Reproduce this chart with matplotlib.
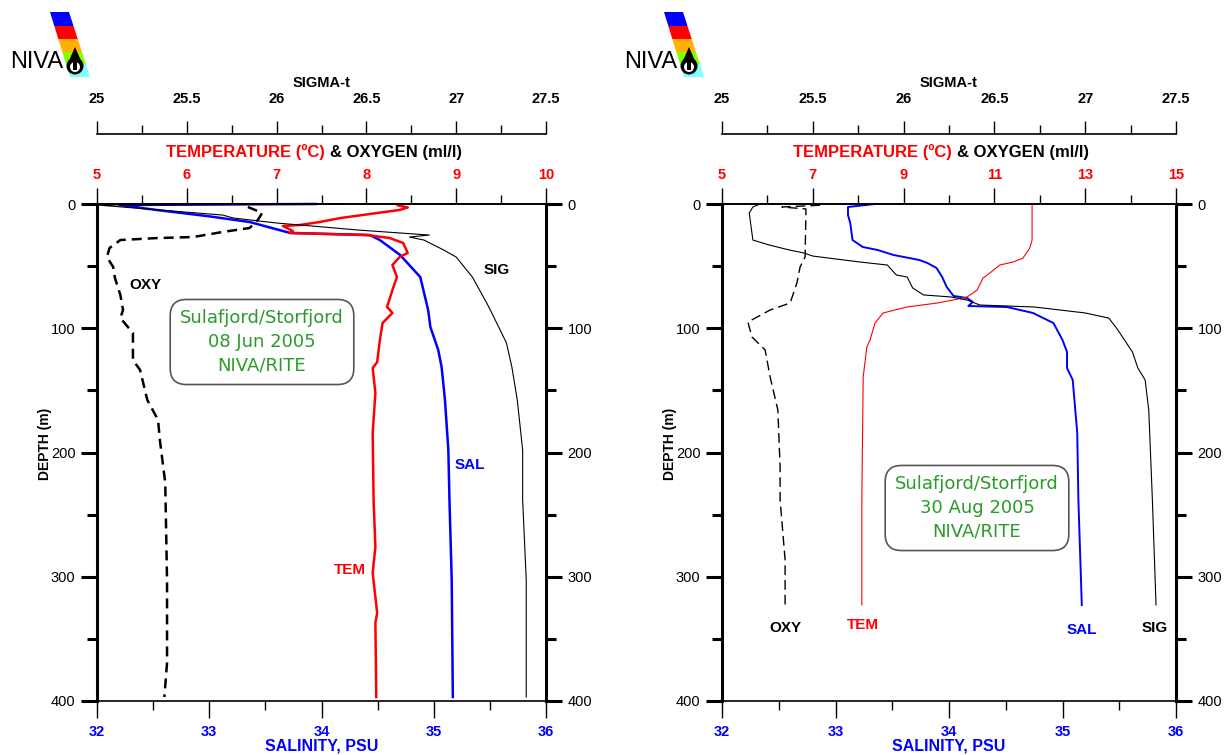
import matplotlib.pyplot as plt
from matplotlib.patches import Polygon, Ellipse
from matplotlib.ticker import MultipleLocator

plt.rcParams['font.family'] = ['Liberation Sans', 'DejaVu Sans']

W, H = 1225, 755

# ---- Sulafjord/Storfjord 08 Jun 2005 ----
jun_sal_depth = [0, 0.8, 4.8, 9.7, 14.5, 23.3, 25.0, 29.0, 41.0, 58.8, 85.3, 99.0, 117.5,
                 131.2, 157.7, 198.0, 238.2, 302.6, 396.8]
jun_sal = [33.95, 32.20, 32.53, 32.98, 33.36, 33.72, 34.43, 34.52, 34.70, 34.88, 34.95, 34.97,
           35.04, 35.07, 35.10, 35.13, 35.14, 35.16, 35.17]

jun_tem_depth = [1, 2.8, 4.8, 11.3, 14.5, 16.9, 17.7, 21.7, 23.3, 25.0, 27.4, 31.4, 39.4, 42.7,
                 49.1, 58.8, 69.2, 82.9, 87.7, 95.8, 109.5, 127.2, 132.0, 152.1, 184.3, 238.2,
                 276.1, 297.0, 329.2, 337.2, 396.8]
jun_tem = [8.35, 8.46, 8.37, 7.71, 7.48, 7.26, 7.07, 7.18, 7.15, 8.01, 8.26, 8.41, 8.46, 8.37,
           8.29, 8.34, 8.29, 8.23, 8.29, 8.18, 8.15, 8.12, 8.07, 8.10, 8.07, 8.08,
           8.10, 8.07, 8.12, 8.10, 8.11]

jun_sig_depth = [0, 0.8, 8.9, 11.3, 15.3, 18.5, 20.9, 25.0, 26.6, 29.0, 37.0, 42.7, 58.8, 79.7,
                 85.3, 111.9, 131.2, 157.7, 198.0, 238.2, 302.6, 396.8]
jun_sig = [26.37, 25.00, 25.70, 25.76, 26.00, 26.26, 26.45, 26.85, 26.74, 26.82, 26.93, 27.00,
           27.09, 27.17, 27.19, 27.28, 27.31, 27.34, 27.37, 27.37, 27.39, 27.39]

jun_oxy_depth = [2.4, 7.2, 12.9, 19.3, 22.5, 26.6, 27.4, 29.0, 35.4, 42.7, 50.7, 59.6, 73.2,
                 85.3, 91.8, 103.8, 125.6, 133.6, 157.7, 173.8, 189.9, 224.5, 302.6, 369.4, 396.8]
jun_oxy = [6.68, 6.84, 6.79, 6.70, 6.40, 6.07, 5.67, 5.26, 5.14, 5.11, 5.18, 5.20, 5.26,
           5.29, 5.26, 5.40, 5.40, 5.48, 5.56, 5.68, 5.70, 5.76, 5.78, 5.78, 5.75]

# ---- Sulafjord/Storfjord 30 Aug 2005 ----
aug_sal_depth = [0, 2.4, 8.9, 15.3, 29.0, 34.6, 37.0, 41.0, 45.1, 47.5, 51.5, 58.8, 66.8, 74.0,
                 75.7, 78.9, 82.1, 82.9, 87.7, 95.8, 109.5, 119.1, 132.0, 141.6, 184.3, 238.2, 322.7]
aug_sal = [33.35, 33.11, 33.11, 33.13, 33.15, 33.24, 33.37, 33.51, 33.74, 33.81, 33.89, 33.94,
           33.98, 34.04, 34.16, 34.21, 34.17, 34.51, 34.74, 34.92, 35.00, 35.04, 35.04, 35.09,
           35.13, 35.14, 35.17]

aug_tem_depth = [0, 29.0, 35.4, 43.5, 46.7, 49.1, 55.5, 59.6, 69.2, 74.8, 77.3, 79.7, 82.9,
                 87.7, 95.8, 109.5, 115.1, 139.2, 238.2, 322.7]
aug_tem = [11.83, 11.83, 11.78, 11.63, 11.41, 11.12, 10.90, 10.75, 10.62, 10.40, 10.09, 9.74,
           9.07, 8.55, 8.37, 8.26, 8.19, 8.11, 8.08, 8.08]

aug_sig_depth = [0, 2.4, 7.2, 29.0, 33.0, 37.0, 39.4, 41.9, 46.7, 49.1, 57.1, 58.8, 67.6, 73.2,
                 74.8, 77.3, 81.3, 82.9, 87.7, 91.8, 101.4, 119.1, 132.0, 141.6, 165.8, 238.2, 322.7]
aug_sig = [25.21, 25.17, 25.15, 25.17, 25.26, 25.37, 25.45, 25.50, 25.76, 25.91, 25.96, 26.02,
           26.05, 26.11, 26.26, 26.35, 26.42, 26.72, 27.00, 27.13, 27.18, 27.26, 27.29, 27.33,
           27.35, 27.37, 27.39]

aug_oxy_depth = [1, 2.4, 4, 42.7, 50.7, 63.6, 79.7, 85.3, 95.0, 107.0, 117.5, 139.2, 165.8,
                 211.7, 238.2, 286.5, 322.7]
aug_oxy = [7.16, 6.32, 6.85, 6.83, 6.72, 6.65, 6.50, 6.06, 5.57, 5.66, 5.95, 6.06, 6.23,
           6.28, 6.28, 6.39, 6.39]

# ticks
sal_ticks = [32, 33, 34, 35, 36]
sig_ticks = [25, 25.5, 26, 26.5, 27, 27.5]
jun_temp_ticks = [5, 6, 7, 8, 9, 10]
aug_temp_ticks = [5, 7, 9, 11, 13, 15]
depth_ticks = [0, 100, 200, 300, 400]

GREEN = '#2a9a2a'

fig = plt.figure(figsize=(W / 100, H / 100), dpi=100)


def px(x, y):
    return x / W, 1 - y / H


def fmt(v):
    return ('%g' % v)


def logo(dx):
    bands = [(12, 26, '#0000ff'), (26, 39, '#ff0000'), (39, 52, '#ffb000'),
             (52, 64, '#80ff00'), (64, 77, '#80ffff')]
    xl = lambda y: 50 + (y - 12) * 20 / 65 + dx
    xr = lambda y: 69 + (y - 12) * 21 / 65 + dx
    for y0, y1, c in bands:
        pts = [px(xl(y0), y0), px(xr(y0), y0), px(xr(y1), y1), px(xl(y1), y1)]
        fig.add_artist(Polygon(pts, closed=True, fc=c, ec='none', transform=fig.transFigure))
    # drop
    fig.add_artist(Polygon([px(68 + dx, 63), px(82 + dx, 63), px(75 + dx, 47)], closed=True,
                           fc='black', ec='none', transform=fig.transFigure))
    fig.add_artist(Ellipse(px(75 + dx, 66), 17 / W, 17 / H, fc='black', ec='none',
                           transform=fig.transFigure))
    fig.add_artist(Ellipse(px(75 + dx, 67), 10 / W, 10 / H, fc='white', ec='none',
                           transform=fig.transFigure))
    fig.add_artist(Polygon([px(73 + dx, 60), px(77 + dx, 60), px(77 + dx, 70), px(73 + dx, 70)],
                           closed=True, fc='black', ec='none', transform=fig.transFigure))
    fig.text(*px(10 + dx, 62), 'NIVA', fontsize=17, va='center', ha='left',
             family=['Liberation Sans Narrow', 'Liberation Sans'])


def panel(x0, x1, tmax, tticks, tminor, d, thick, thin, oxylw, oxydash, boxtext, boxxy, labels):
    ax = fig.add_axes([x0 / W, 1 - 701 / H, (x1 - x0) / W, 497 / H])
    ax.set_xlim(32, 36)
    ax.set_ylim(400, 0)
    ax.set_xticks(sal_ticks, labels=[fmt(v) for v in sal_ticks], color='blue',
                  fontweight='bold', fontsize=10.5)
    ax.xaxis.set_minor_locator(MultipleLocator(0.5))
    ax.set_yticks(depth_ticks, labels=[fmt(v) for v in depth_ticks], fontsize=10.5)
    ax.yaxis.set_minor_locator(MultipleLocator(50))
    ax.tick_params(axis='x', which='major', direction='out', length=12, width=1, pad=5)
    ax.tick_params(axis='x', which='minor', direction='out', length=6.5, width=1)
    ax.tick_params(axis='y', which='both', direction='out', left=True, right=True,
                   labelleft=True, labelright=True, width=2.2, pad=4)
    ax.tick_params(axis='y', which='major', length=11.5)
    ax.tick_params(axis='y', which='minor', length=7)
    for s in ['left', 'right']:
        ax.spines[s].set_linewidth(2.2)
    for s in ['top', 'bottom']:
        ax.spines[s].set_linewidth(1.2)

    # temperature / oxygen axis
    axt = ax.twiny()
    axt.set_xlim(5, tmax)
    axt.set_xticks(tticks, labels=[fmt(v) for v in tticks], color='red',
                   fontweight='bold', fontsize=10.5)
    axt.xaxis.set_minor_locator(MultipleLocator(tminor))
    axt.tick_params(axis='x', which='major', direction='out', length=11.5, width=1, pad=4.3)
    axt.tick_params(axis='x', which='minor', direction='out', length=6.5, width=1)
    for s in ['left', 'right', 'bottom']:
        axt.spines[s].set_visible(False)
    axt.spines['top'].set_linewidth(1.2)

    # sigma-t axis
    axs = ax.twiny()
    axs.set_xlim(25, 27.5)
    axs.spines['top'].set_position(('outward', 50.4))
    axs.set_xticks(sig_ticks, labels=[fmt(v) for v in sig_ticks], fontweight='bold',
                   fontsize=10.5)
    axs.xaxis.set_minor_locator(MultipleLocator(0.25))
    axs.tick_params(axis='x', which='major', direction='out', length=9.4, width=1, pad=10.8)
    axs.tick_params(axis='x', which='minor', direction='out', length=6.5, width=1)
    for s in ['left', 'right', 'bottom']:
        axs.spines[s].set_visible(False)
    axs.spines['top'].set_linewidth(1.2)

    ax.plot(d['sal'], d['sal_d'], color='blue', lw=thick, clip_on=False)
    axt.plot(d['tem'], d['tem_d'], color='red', lw=thin if thin else thick, clip_on=False)
    axt.plot(d['oxy'], d['oxy_d'], color='black', lw=oxylw, dashes=oxydash, clip_on=False)
    axs.plot(d['sig'], d['sig_d'], color='black', lw=0.8, clip_on=False)

    cx = (x0 + x1) / 2
    fig.text(*px(cx, 83), 'SIGMA-t', ha='center', va='center', fontsize=10.5,
             fontweight='bold')
    split = cx + 5
    fig.text(*px(split - 2, 152), 'TEMPERATURE (ºC)', ha='right', va='center', fontsize=12,
             fontweight='bold', color='red')
    fig.text(*px(split + 3, 152), '& OXYGEN (ml/l)', ha='left', va='center', fontsize=12,
             fontweight='bold', color='black')
    fig.text(*px(cx, 746), 'SALINITY, PSU', ha='center', va='center', fontsize=11.5,
             fontweight='bold', color='blue')
    fig.text(*px(x0 - 52, 444), 'DEPTH (m)', ha='center', va='center', rotation=90,
             fontsize=10, fontweight='bold')

    for txt, x, y, c in labels:
        fig.text(*px(x, y), txt, ha='center', va='center', fontsize=11, fontweight='bold',
                 color=c)

    fig.text(*px(*boxxy), boxtext, ha='center', va='center', color=GREEN, fontsize=13,
             family='DejaVu Sans', linespacing=1.4,
             bbox=dict(boxstyle='round,pad=0.55,rounding_size=0.9', fc='white',
                       ec='#555555', lw=1.2))


jun = dict(sal=jun_sal, sal_d=jun_sal_depth, tem=jun_tem, tem_d=jun_tem_depth,
           oxy=jun_oxy, oxy_d=jun_oxy_depth, sig=jun_sig, sig_d=jun_sig_depth)
aug = dict(sal=aug_sal, sal_d=aug_sal_depth, tem=aug_tem, tem_d=aug_tem_depth,
           oxy=aug_oxy, oxy_d=aug_oxy_depth, sig=aug_sig, sig_d=aug_sig_depth)

panel(97, 546, 10, jun_temp_ticks, 0.5, jun, 1.8, None, 1.8, (4, 2.4),
      'Sulafjord/Storfjord\n08 Jun 2005\nNIVA/RITE', (262, 342),
      [('OXY', 145, 285, 'black'), ('SIG', 497, 270, 'black'),
       ('SAL', 470, 465, 'blue'), ('TEM', 350, 570, 'red')])
panel(722, 1176, 15, aug_temp_ticks, 1, aug, 1.4, 0.8, 1.0, (7, 3.6),
      'Sulafjord/Storfjord\n30 Aug 2005\nNIVA/RITE', (977, 508),
      [('OXY', 785, 628, 'black'), ('TEM', 863, 625, 'red'),
       ('SAL', 1082, 630, 'blue'), ('SIG', 1155, 628, 'black')])

logo(0)
logo(614)

fig.savefig('out.png', dpi=100)
